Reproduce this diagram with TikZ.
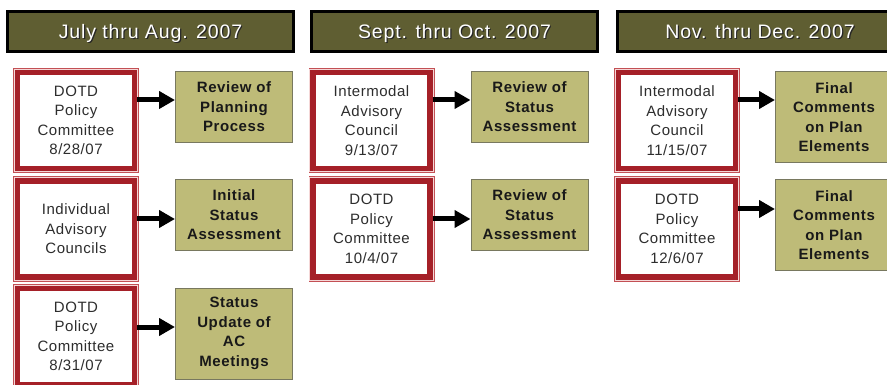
\documentclass[tikz,border=0pt]{standalone}
\usepackage{fontspec}
\setmainfont{Liberation Sans}
\newfontfamily\headfont[LetterSpace=4.5]{Liberation Sans}
\newfontfamily\meetfont[LetterSpace=3.5]{Liberation Sans}
\newfontfamily\notefont[LetterSpace=4]{Liberation Sans}
\usetikzlibrary{positioning,arrows.meta}

\definecolor{headfill}{RGB}{95,94,50}
\definecolor{boxred}{RGB}{165,32,40}
\definecolor{rimred}{RGB}{195,80,85}
\definecolor{rimpale}{RGB}{245,215,215}
\definecolor{notefill}{RGB}{190,187,120}
\definecolor{noteline}{RGB}{120,120,95}
\definecolor{meettext}{RGB}{45,45,45}

\newcommand\shadowed[1]{\makebox[0pt][l]{\hspace{1.2pt}\raisebox{-1.2pt}{\textcolor{black!85}{#1}}}\textcolor{white}{#1}}

\tikzset{
  period/.style={draw=black, line width=3pt, fill=headfill, minimum width=286pt,
    minimum height=40pt, inner sep=0pt, text height=14pt, text depth=0pt,
    font=\headfont\fontsize{19.5}{22}\selectfont},
  meeting/.style={preaction={draw=rimred, line width=9pt},
    preaction={draw=rimpale, line width=7.2pt},
    draw=boxred, line width=5.4pt, fill=white, minimum width=117pt,
    minimum height=96pt, inner sep=0pt, align=center, text=meettext,
    font=\meetfont\fontsize{15}{19.5}\selectfont},
  outcome/.style={draw=noteline, line width=1pt, fill=notefill, minimum width=117pt,
    minimum height=71pt, inner sep=0pt, align=center, text=black!90,
    font=\notefont\bfseries\fontsize{15}{19.5}\selectfont},
  tall/.style={minimum height=91pt},
  flow/.style={line width=5pt, -{Triangle[length=16pt,width=17pt]}}
}

\begin{document}
\begin{tikzpicture}[x=1pt,y=-1pt,node distance=108.5pt and 158pt,on grid]
  \useasboundingbox (0,0) rectangle (887,385);

  % time periods
  \node[period] (p1) at (150.5,31.5) {\shadowed{July thru Aug. 2007}};
  \node[period] (p2) at (454.5,31.5) {\shadowed{Sept. thru Oct. 2007}};
  \node[period] (p3) at (760,31.5) {\shadowed{Nov. thru Dec. 2007}};

  % July - Aug.
  \node[meeting] (m1) at (76,120.5) {DOTD\\Policy\\Committee\\8/28/07};
  \node[meeting] (m2) [below=of m1] {Individual\\Advisory\\Councils};
  \node[meeting] (m3) [below=107.5pt of m2] {DOTD\\Policy\\Committee\\8/31/07};
  \node[outcome] (o1) [right=of m1, yshift=13.5pt] {Review of\\Planning\\Process};
  \node[outcome] (o2) [right=of m2, yshift=14pt] {Initial\\Status\\Assessment};
  \node[outcome, tall] (o3) [right=of m3, yshift=3pt] {Status\\Update of\\AC\\Meetings};

  % Sept. - Oct.
  \node[meeting] (m4) at (371.5,120.5) {Intermodal\\Advisory\\Council\\9/13/07};
  \node[meeting] (m5) [below=of m4] {DOTD\\Policy\\Committee\\10/4/07};
  \node[outcome] (o4) [right=of m4, yshift=13.5pt] {Review of\\Status\\Assessment};
  \node[outcome] (o5) [right=of m5, yshift=14pt] {Review of\\Status\\Assessment};

  % Nov. - Dec.
  \node[meeting] (m6) at (677,120.5) {Intermodal\\Advisory\\Council\\11/15/07};
  \node[meeting] (m7) [below=of m6] {DOTD\\Policy\\Committee\\12/6/07};
  \node[outcome, tall] (o6) [right=157pt of m6, yshift=3.5pt] {Final\\Comments\\on Plan\\Elements};
  \node[outcome, tall] (o7) [right=157pt of m7, yshift=4pt] {Final\\Comments\\on Plan\\Elements};

  \draw[flow] ([yshift=20.5pt]m1.east) -- ([yshift=20.5pt]m1.east -| o1.west);
  \draw[flow] ([yshift=10pt]m2.east) -- ([yshift=10pt]m2.east -| o2.west);
  \draw[flow] ([yshift=9.5pt]m3.east) -- ([yshift=9.5pt]m3.east -| o3.west);
  \draw[flow] ([yshift=20.5pt]m4.east) -- ([yshift=20.5pt]m4.east -| o4.west);
  \draw[flow] ([yshift=10pt]m5.east) -- ([yshift=10pt]m5.east -| o5.west);
  \draw[flow] ([yshift=20.5pt]m6.east) -- ([yshift=20.5pt]m6.east -| o6.west);
  \draw[flow] ([yshift=20pt]m7.east) -- ([yshift=20pt]m7.east -| o7.west);
\end{tikzpicture}
\end{document}
